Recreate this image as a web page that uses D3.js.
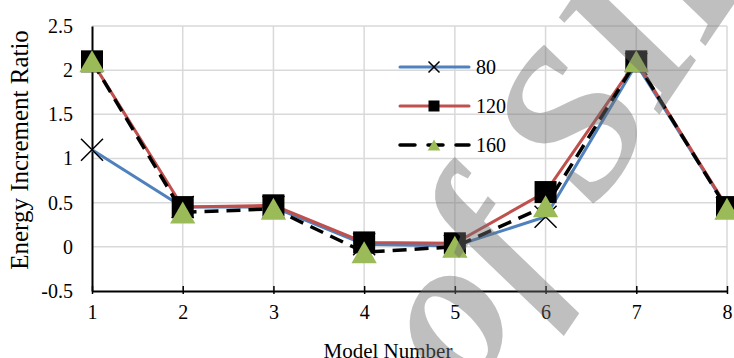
<!DOCTYPE html>
<html>
<head>
<meta charset="utf-8">
<script src="https://cdn.jsdelivr.net/npm/d3@7"></script>
<style>
  body { margin: 0; background: #fff; }
  text { font-family: "Liberation Serif", "Times New Roman", serif; }
</style>
</head>
<body>
<div class="chart"></div>
<script>
var models = [1, 2, 3, 4, 5, 6, 7, 8];
var s80  = [1.1, 0.45, 0.45, 0.03, 0.01, 0.34, 2.07, 0.44];
var s120 = [2.1, 0.45, 0.47, 0.05, 0.04, 0.62, 2.1, 0.45];
var s160 = [2.1, 0.39, 0.43, -0.06, 0.0, 0.46, 2.1, 0.43];
var yTicks = [-0.5, 0, 0.5, 1, 1.5, 2, 2.5];
var seriesNames = ["80", "120", "160"];

var width = 734, height = 358;
var svg = d3.select(".chart").append("svg")
    .attr("width", width)
    .attr("height", height);

var x = d3.scaleLinear().domain([1, 8]).range([92, 727]);
var y = d3.scaleLinear().domain([-0.5, 2.5]).range([291, 26]);

// grid
svg.append("g").selectAll("line")
  .data(yTicks.filter(function(d) { return d > -0.5; }))
  .enter().append("line")
    .attr("x1", x(1)).attr("x2", x(8))
    .attr("y1", function(d) { return y(d); })
    .attr("y2", function(d) { return y(d); })
    .attr("stroke", "#d9d9d9").attr("stroke-width", 1.5);
svg.append("g").selectAll("line")
  .data(models.slice(1))
  .enter().append("line")
    .attr("x1", function(d) { return x(d); })
    .attr("x2", function(d) { return x(d); })
    .attr("y1", y(2.5)).attr("y2", y(-0.5))
    .attr("stroke", "#d9d9d9").attr("stroke-width", 1.5);

// axes
var xAxis = svg.append("g")
    .attr("transform", "translate(0," + y(-0.5) + ")")
    .call(d3.axisBottom(x).tickValues(models).tickFormat(d3.format("d"))
      .tickSizeInner(-5).tickSizeOuter(0).tickPadding(14));
xAxis.select(".domain").attr("stroke", "#000").attr("stroke-width", 2);
xAxis.selectAll(".tick line").attr("stroke", "#000").attr("stroke-width", 1.5)
    .attr("y1", -5).attr("y2", 3);
xAxis.selectAll("text").attr("font-size", 20).attr("fill", "#000")
    .attr("font-family", "Liberation Serif");

var yAxis = svg.append("g")
    .attr("transform", "translate(" + x(1) + ",0)")
    .call(d3.axisLeft(y).tickValues(yTicks).tickFormat(function(d) { return d; })
      .tickSize(0).tickPadding(19));
yAxis.select(".domain").attr("stroke", "#000").attr("stroke-width", 2);
yAxis.selectAll("text").attr("font-size", 20).attr("fill", "#000")
    .attr("font-family", "Liberation Serif");

// titles
svg.append("text")
    .attr("x", 388).attr("y", 358)
    .attr("text-anchor", "middle")
    .attr("font-size", 21)
    .text("Model Number");
svg.append("text")
    .attr("transform", "translate(28,150) rotate(-90)")
    .attr("text-anchor", "middle")
    .attr("font-size", 25)
    .text("Energy Increment Ratio");

// series
var series = [
  { name: seriesNames[0], values: s80, color: "#4f81bd", dash: null, marker: "x" },
  { name: seriesNames[1], values: s120, color: "#c0504d", dash: null, marker: "square" },
  { name: seriesNames[2], values: s160, color: "#000", dash: "14,8", marker: "triangle" }
];

var line = d3.line()
    .x(function(d, i) { return x(models[i]); })
    .y(function(d) { return y(d); });

function drawMarker(g, type, size) {
  var h = size / 2;
  if (type == "x") {
    g.append("path")
      .attr("d", "M" + (-h) + "," + (-h) + "L" + h + "," + h + "M" + (-h) + "," + h + "L" + h + "," + (-h))
      .attr("stroke", "#000").attr("stroke-width", 1.5).attr("fill", "none");
  } else if (type == "square") {
    g.append("rect")
      .attr("x", -h).attr("y", -h).attr("width", size).attr("height", size)
      .attr("fill", "#000");
  } else {
    var w = size * 1.15 / 2;
    g.append("path")
      .attr("d", "M0," + (-h) + "L" + w + "," + h + "L" + (-w) + "," + h + "Z")
      .attr("fill", "#9bbb59");
  }
}

series.forEach(function(s) {
  var g = svg.append("g");
  g.append("path")
    .attr("d", line(s.values))
    .attr("fill", "none")
    .attr("stroke", s.color)
    .attr("stroke-width", s.dash ? 3.5 : 3)
    .attr("stroke-dasharray", s.dash);
  s.values.forEach(function(v, i) {
    var m = g.append("g")
      .attr("transform", "translate(" + x(models[i]) + "," + y(v) + ")");
    drawMarker(m, s.marker, 22);
  });
});

// legend
var legend = svg.append("g");
series.forEach(function(s, i) {
  var ly = 67 + i * 39;
  legend.append("line")
    .attr("x1", 400).attr("x2", 469)
    .attr("y1", ly).attr("y2", ly)
    .attr("stroke", s.color)
    .attr("stroke-width", s.dash ? 3.5 : 3)
    .attr("stroke-dasharray", s.dash ? "15,13" : null)
    .attr("stroke-linecap", "round");
  var m = legend.append("g").attr("transform", "translate(434," + ly + ")");
  drawMarker(m, s.marker, 11);
  legend.append("text")
    .attr("x", 476).attr("y", ly + 7)
    .attr("font-size", 20)
    .text(s.name);
});

// watermark of the source page
svg.append("text")
    .attr("transform", "translate(468,398) rotate(-56)")
    .attr("font-size", 210)
    .attr("font-style", "italic")
    .attr("font-weight", "bold")
    .attr("fill", "#727272")
    .attr("fill-opacity", 0.45)
    .text("of SID");
</script>
</body>
</html>
